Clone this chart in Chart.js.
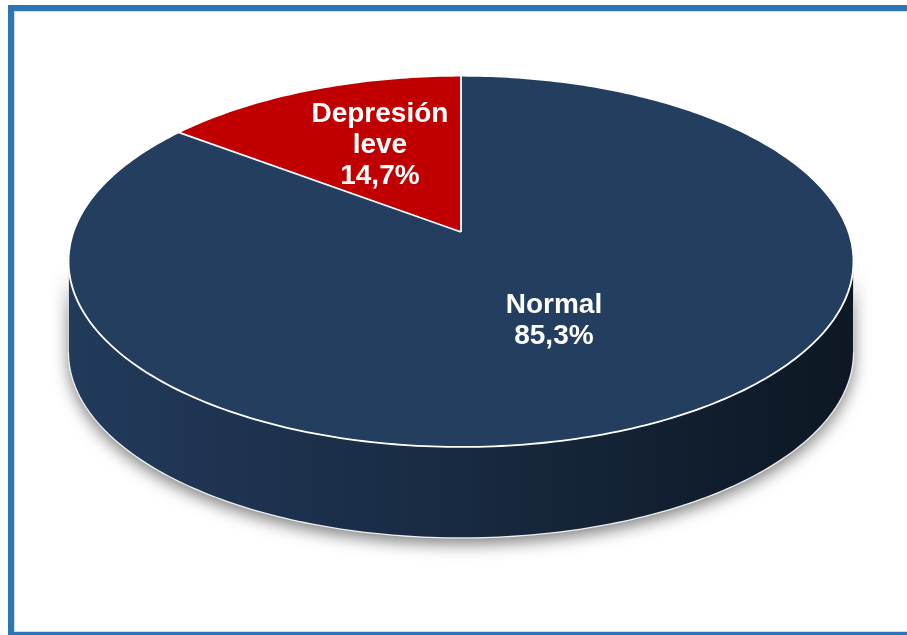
<!DOCTYPE html>
<html>
<head>
<meta charset="utf-8">
<script src="https://cdn.jsdelivr.net/npm/chart.js@4/dist/chart.umd.min.js"></script>
<style>
    html, body { margin: 0; padding: 0; background: #fff; overflow: hidden; }
    #wrap  { position: relative; width: 907px; height: 635px; }
    #pieChart { display: block; }
    #frame {
        position: absolute; left: 8px; top: 5px; width: 1000px; height: 633px;
        border: 6px solid #2e75b6; box-sizing: border-box; pointer-events: none;
        box-shadow: inset 0 0 0 1px #c9def1;
    }
</style>
</head>
<body>
<div id="wrap">
    <canvas id="pieChart" width="907" height="635"></canvas>
    <div id="frame"></div>
</div>
<script>
// data
const categories  = ["Depresión leve", "Normal"];
const percentages = [14.7, 85.3];
const sliceColors = ["#c00000", "#243e60"];

// look of the 3D disc (screen px)
const CX = 461, CY = 232;     // where the pie centre lands on screen
const AX = 387.6, BY = 181;   // half axes before the perspective stretch
const PERSP = 0.158;          // how much nearer the front edge is
const DEPTH = 91;             // thickness of the disc
const LABEL_R  = [0.57, 0.50]; // label distance from centre, per slice
const LABEL_DX = [10, 0];      // small nudges to match the original
const LABEL_DY = [-1, 2];

// flat pie coords (u right, v towards the viewer) -> screen
function project(u, v) {
    const w = 1 / (1 - PERSP * v);
    return { x: CX + AX * u * w, y: CY + BY * v * w };
}

function rimPath(ctx, a0, a1, dy, move) {
    const steps = Math.max(8, Math.ceil(Math.abs(a1 - a0) * 60));
    for (let i = 0; i <= steps; i++) {
        const a = a0 + (a1 - a0) * i / steps;
        const p = project(Math.cos(a), Math.sin(a));
        if (i === 0 && move) ctx.moveTo(p.x, p.y + dy);
        else ctx.lineTo(p.x, p.y + dy);
    }
}

// darken a #rrggbb colour by factor f (0..1)
function shade(hex, f) {
    const n = parseInt(hex.slice(1), 16);
    const r = Math.round(((n >> 16) & 255) * f);
    const g = Math.round(((n >> 8) & 255) * f);
    const b = Math.round((n & 255) * f);
    return `rgb(${r},${g},${b})`;
}

// Chart.js draws a flat pie, this plugin turns it into a tilted disc
const disc3d = {
    id: "disc3d",
    afterDatasetsDraw(chart) {
        const ctx  = chart.ctx;
        const pr   = chart.currentDevicePixelRatio || 1;
        const arcs = chart.getDatasetMeta(0).data;
        const ox = arcs[0].x, oy = arcs[0].y, R = arcs[0].outerRadius;

        // keep the flat pie, then wipe the canvas
        const src = document.createElement("canvas");
        src.width  = chart.canvas.width;
        src.height = chart.canvas.height;
        src.getContext("2d").drawImage(chart.canvas, 0, 0);
        ctx.save();
        ctx.setTransform(1, 0, 0, 1, 0, 0);
        ctx.clearRect(0, 0, chart.canvas.width, chart.canvas.height);
        ctx.restore();

        // side wall (only the front half is visible)
        const f0 = Math.asin(PERSP), f1 = Math.PI - f0;
        arcs.forEach((arc, i) => {
            for (let k = -1; k <= 1; k++) {
                const a0 = Math.max(arc.startAngle + 2 * Math.PI * k, f0);
                const a1 = Math.min(arc.endAngle + 2 * Math.PI * k, f1);
                if (a1 <= a0) continue;

                const grad = ctx.createLinearGradient(CX - AX * 1.02, 0, CX + AX * 1.02, 0);
                grad.addColorStop(0,    shade(sliceColors[i], 0.95));
                grad.addColorStop(0.15, shade(sliceColors[i], 0.86));
                grad.addColorStop(0.5,  shade(sliceColors[i], 0.68));
                grad.addColorStop(0.85, shade(sliceColors[i], 0.45));
                grad.addColorStop(1,    shade(sliceColors[i], 0.38));

                ctx.save();
                ctx.beginPath();
                rimPath(ctx, a0, a1, 0, true);
                rimPath(ctx, a1, a0, DEPTH, false);
                ctx.closePath();
                ctx.shadowColor   = "rgba(0,0,0,0.5)";
                ctx.shadowBlur    = 16;
                ctx.shadowOffsetY = 6;
                ctx.fillStyle = grad;
                ctx.fill();
                ctx.restore();

                // bottom edge and the two side edges
                ctx.save();
                ctx.strokeStyle = "rgba(255,255,255,0.9)";
                ctx.lineWidth = 1.3;
                ctx.beginPath();
                rimPath(ctx, a0, a1, DEPTH, true);
                ctx.stroke();
                ctx.lineWidth = 1;
                ctx.strokeStyle = "rgba(255,255,255,0.7)";
                [f0, f1].forEach(a => {
                    if (a < a0 - 1e-6 || a > a1 + 1e-6) return;
                    const p = project(Math.cos(a), Math.sin(a));
                    ctx.beginPath();
                    ctx.moveTo(p.x, p.y);
                    ctx.lineTo(p.x, p.y + DEPTH);
                    ctx.stroke();
                });
                ctx.restore();
            }
        });

        // top face: copy the flat pie row by row with perspective
        ctx.save();
        ctx.imageSmoothingEnabled = true;
        ctx.imageSmoothingQuality = "high";
        const top = Math.floor(CY - BY / (1 + PERSP));
        const bot = Math.ceil(CY + BY / (1 - PERSP));
        for (let y = top; y < bot; y++) {
            const t = (y + 0.5 - CY) / BY;
            const v = t / (1 + PERSP * t);
            if (v < -1 || v > 1) continue;
            const w  = 1 / (1 - PERSP * v);
            const dv = R / (BY * Math.pow(1 + PERSP * t, 2));
            const sy = oy + v * R - dv / 2;
            ctx.drawImage(src, (ox - R) * pr, sy * pr, 2 * R * pr, dv * pr,
                          CX - AX * w, y, 2 * AX * w, 1);
        }
        ctx.restore();

        // white rim and slice separators
        ctx.save();
        ctx.strokeStyle = "#fff";
        ctx.lineWidth = 1.8;
        ctx.beginPath();
        rimPath(ctx, 0, 2 * Math.PI, 0, true);
        ctx.closePath();
        ctx.stroke();
        const c = project(0, 0);
        arcs.forEach(arc => {
            const p = project(Math.cos(arc.startAngle), Math.sin(arc.startAngle));
            ctx.beginPath();
            ctx.moveTo(c.x, c.y);
            ctx.lineTo(p.x, p.y);
            ctx.stroke();
        });
        ctx.restore();

        // labels
        ctx.save();
        ctx.fillStyle = "#fff";
        ctx.font = "bold 28px 'Liberation Sans', Arial, sans-serif";
        ctx.textAlign = "center";
        ctx.textBaseline = "middle";
        arcs.forEach((arc, i) => {
            const mid = (arc.startAngle + arc.endAngle) / 2;
            const p = project(LABEL_R[i] * Math.cos(mid), LABEL_R[i] * Math.sin(mid));
            const lines = categories[i].split(" ")
                .concat(percentages[i].toFixed(1).replace(".", ",") + "%");
            lines.forEach((ln, j) => {
                ctx.fillText(ln, p.x + LABEL_DX[i],
                             p.y + LABEL_DY[i] + (j - (lines.length - 1) / 2) * 31);
            });
        });
        ctx.restore();
    }
};

new Chart(document.getElementById("pieChart"), {
    type: "pie",
    data: {
        labels: categories,
        datasets: [{
            data: percentages,
            backgroundColor: sliceColors,
            borderWidth: 0,
            clip: false,
        }],
    },
    options: {
        responsive: false,
        animation: false,
        events: [],
        rotation: -percentages[0] * 3.6,   // red slice ends at 12 o'clock
        plugins: { legend: { display: false }, tooltip: { enabled: false } },
    },
    plugins: [disc3d],
});
</script>
</body>
</html>
